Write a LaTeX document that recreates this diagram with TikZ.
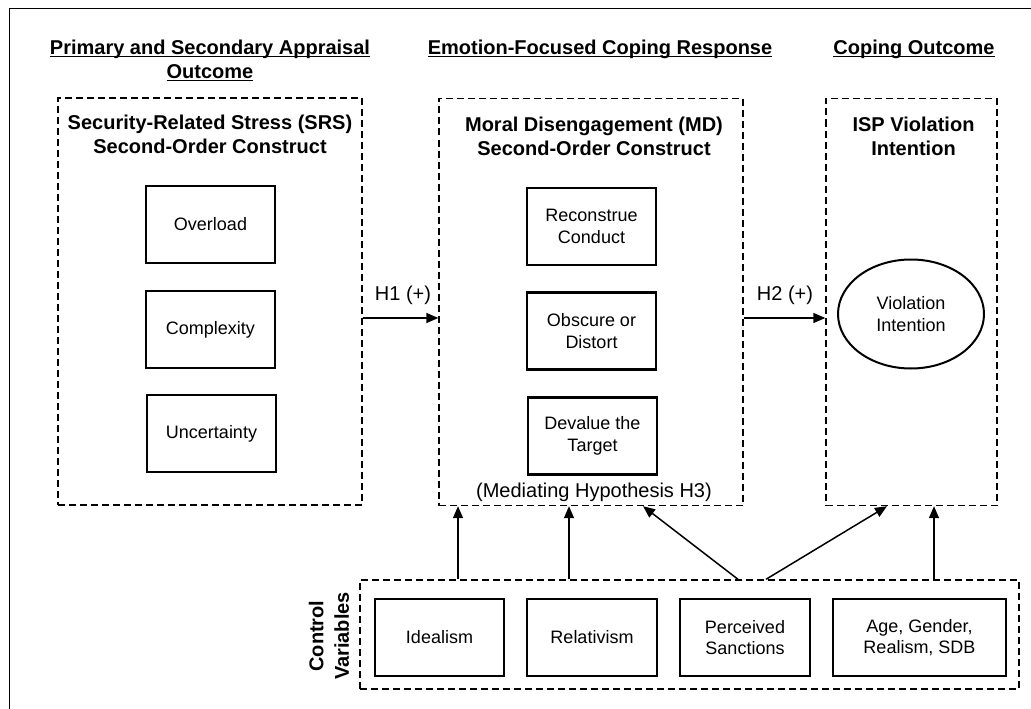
\documentclass[tikz,border=0pt]{standalone}
\usepackage{fontspec}
\setmainfont{Liberation Sans}
\usetikzlibrary{arrows.meta,shapes.geometric}
\newcommand\myul[1]{\setbox0\hbox{#1}\rlap{\rule[-2.6pt]{\wd0}{1.4pt}}\box0}
\begin{document}
\begin{tikzpicture}[x=1pt,y=-1pt,
  grp/.style={draw, line width=1.4pt, dash pattern=on 7pt off 4pt, inner sep=0pt},
  item/.style={draw, line width=2.2pt, minimum width=129pt, minimum height=77pt, inner sep=0pt, align=center, font=\fontsize{18}{21.5}\selectfont},
  ttl/.style={font=\bfseries\fontsize{20}{24}\selectfont, align=center, inner sep=0pt},
  hd/.style={font=\bfseries\fontsize{20}{24}\selectfont, inner sep=0pt, anchor=base},
  lbl/.style={font=\fontsize{20}{24}\selectfont, inner sep=0pt},
  arr/.style={line width=1.5pt, -{Triangle[length=12pt,width=10pt]}}]
\useasboundingbox (0,0) rectangle (1031,709);
\clip (0,0) rectangle (1031,709);
\draw[line width=1.6pt] (9.5,730) -- (9.5,8.5) -- (1050,8.5);
% headings
\node[hd] (hA1) at (210,54.5) {\myul{Primary and Secondary Appraisal}};
\node[hd] (hA2) at (210,78.5) {\myul{Outcome}};
\node[hd] (hB) at (600,54.5) {\myul{Emotion-Focused Coping Response}};
\node[hd] (hC) at (914,54.5) {\myul{Coping Outcome}};
% SRS
\node[grp, minimum width=304pt, minimum height=407pt] (SRS) at (210,301.5) {};
\node[ttl] (SRSt) at (210,134.5) {Security-Related Stress (SRS)\\Second-Order Construct};
\node[item] (ovl) at (210.5,224.5) {Overload};
\node[item] (cpx) at (210.5,329.5) {Complexity};
\node[item] (unc) at (211.5,433.5) {Uncertainty};
% MD
\node[grp, minimum width=304pt, minimum height=407pt] (MD) at (591,302) {};
\node[ttl] (MDt) at (594,136.5) {Moral Disengagement (MD)\\Second-Order Construct};
\node[item] (rec) at (591.5,226.5) {Reconstrue\\Conduct};
\node[item] (obs) at (591.5,331) {Obscure or\\Distort};
\node[item] (dev) at (592.5,436) {Devalue the\\Target};
\node[lbl] (med) at (594,492) {(Mediating Hypothesis H3)};
% ISP
\node[grp, minimum width=171pt, minimum height=407pt] (ISP) at (911.5,302) {};
\node[ttl] (ISPt) at (913.5,136.5) {ISP Violation\\Intention};
\node[draw, ellipse, line width=2pt, minimum width=146pt, minimum height=109pt, inner sep=0pt, align=center, font=\fontsize{18}{22.5}\selectfont] (VI) at (911,314) {Violation\\Intention};
% H labels and arrows
\node[lbl] (h1l) at (403,295) {H1 (+)};
\node[lbl] (h2l) at (785,295) {H2 (+)};
\coordinate (hy) at (0,318);
\draw[arr] (SRS.east |- hy) -- (MD.west |- hy);
\draw[arr] (MD.east |- hy) -- (ISP.west |- hy);
% control variables
\node[grp, minimum width=659pt, minimum height=109pt] (CV) at (689.5,634.5) {};
\node[font=\bfseries\fontsize{20}{25.5}\selectfont, align=center, inner sep=0pt, rotate=90] (CVt) at (329,636) {Control\\Variables};
\node[item] (ide) at (439.5,637.5) {Idealism};
\node[item, minimum width=130pt] (rel) at (592,637.5) {Relativism};
\node[item, minimum width=130pt] (per) at (745,637.5) {Perceived\\Sanctions};
\node[item, minimum width=173pt] (age) at (919.5,637.5) {Age, Gender,\\Realism, SDB};
\coordinate (x1) at (458,0);
\coordinate (x2) at (569,0);
\coordinate (x3s) at (738,0);
\coordinate (x3e) at (643,0);
\coordinate (x4s) at (766,0);
\coordinate (x4e) at (887,0);
\coordinate (x5) at (934,0);
\draw[arr] (CV.north -| x1) -- (MD.south -| x1);
\draw[arr] (CV.north -| x2) -- (MD.south -| x2);
\draw[arr] (CV.north -| x3s) -- (MD.south -| x3e);
\draw[arr] (CV.north -| x4s) -- (ISP.south -| x4e);
\draw[arr] (CV.north -| x5) -- (ISP.south -| x5);
\end{tikzpicture}
\end{document}
